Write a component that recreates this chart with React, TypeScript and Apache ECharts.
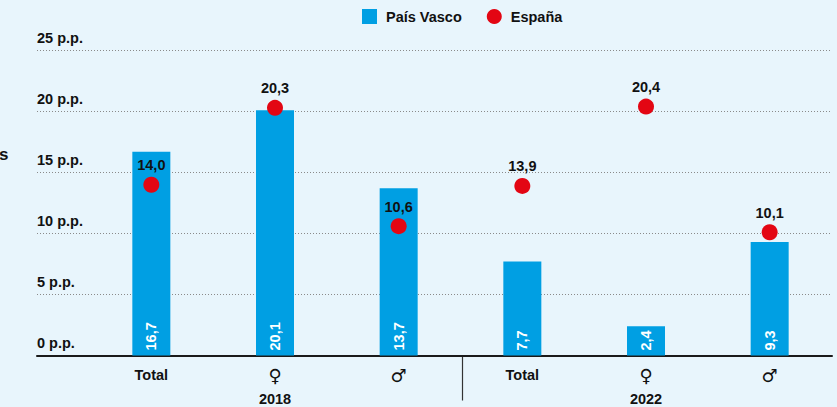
import React, { useEffect, useRef } from "react";
import * as echarts from "echarts";

const categories = ["Total", "♀", "♂", "Total", "♀", "♂"];
const years = ["2018", "2022"];
const paisVasco = [16.7, 20.1, 13.7, 7.7, 2.4, 9.3];
const espana = [14.0, 20.3, 10.6, 13.9, 20.4, 10.1];
const yTicks = { min: 0, max: 25, interval: 5 };

const FONT = "'Liberation Sans', Arial, Helvetica, sans-serif";
const FS = 14.5;
const fmt = (v: number) => v.toFixed(1).replace(".", ",");

export default function App() {
  const ref = useRef<HTMLDivElement>(null);
  useEffect(() => {
    if (!ref.current) return;
    const chart = echarts.init(ref.current, null, { renderer: "svg" });
    const option: any = {
      animation: false,
      backgroundColor: "#e8f5fc",
      textStyle: { fontFamily: FONT },
      legend: {
        left: 362,
        top: 9,
        padding: 0,
        itemWidth: 15,
        itemHeight: 15,
        itemGap: 25,
        textStyle: { fontFamily: FONT, fontWeight: "bold", fontSize: FS, color: "#111", padding: [0, 0, 0, 4] },
        data: [
          { name: "País Vasco", icon: "rect" },
          { name: "España", icon: "circle" },
        ],
      },
      grid: [
        { left: 37, right: 5, top: 50.5, bottom: 51.5 },
        { left: 89.5, right: 5.5, top: 50.5, bottom: 51.5 },
      ],
      xAxis: [
        {
          gridIndex: 0,
          type: "value",
          min: 0,
          max: 1,
          axisLine: { show: true, onZero: false, lineStyle: { color: "#1a1a1a", width: 2 } },
          axisTick: { show: false },
          axisLabel: { show: false },
          splitLine: { show: false },
        },
        {
          gridIndex: 1,
          type: "category",
          data: categories,
          axisLine: { show: false },
          axisTick: { show: false },
          axisLabel: {
            margin: 9.5,
            formatter: (v: string) => (v === "Total" ? `{t|${v}}` : `{s|${v}}`),
            rich: {
              t: { fontFamily: FONT, fontWeight: "bold", fontSize: FS, color: "#111", lineHeight: 20 },
              s: { fontFamily: "'DejaVu Sans', sans-serif", fontSize: 18, color: "#111", lineHeight: 20 },
            },
          },
        },
        {
          gridIndex: 1,
          type: "category",
          data: years,
          position: "bottom",
          axisLine: { show: false },
          axisTick: { show: false },
          axisLabel: { margin: 36, fontFamily: FONT, fontWeight: "bold", fontSize: FS, color: "#111" },
        },
      ],
      yAxis: [
        {
          gridIndex: 0,
          type: "value",
          ...yTicks,
          axisLine: { show: false },
          axisTick: { show: false },
          axisLabel: {
            inside: true,
            margin: 0,
            verticalAlign: "bottom",
            padding: [0, 0, 5, 0],
            formatter: "{value} p.p.",
            fontFamily: FONT,
            fontWeight: "bold",
            fontSize: FS,
            color: "#111",
          },
          splitLine: { lineStyle: { type: [1, 2], color: "#8a8a8a", width: 1 } },
        },
        {
          gridIndex: 1,
          type: "value",
          ...yTicks,
          show: false,
          splitLine: { show: false },
        },
      ],
      series: [
        {
          name: "País Vasco",
          type: "bar",
          xAxisIndex: 1,
          yAxisIndex: 1,
          data: paisVasco,
          barWidth: 38,
          itemStyle: { color: "#009fe3" },
          label: {
            show: true,
            position: "insideBottom",
            rotate: 90,
            align: "left",
            verticalAlign: "middle",
            distance: 5,
            color: "#fff",
            fontFamily: FONT,
            fontWeight: "bold",
            fontSize: FS,
            formatter: (p: any) => fmt(p.value),
          },
        },
        {
          name: "España",
          type: "scatter",
          xAxisIndex: 1,
          yAxisIndex: 1,
          data: espana,
          symbol: "circle",
          symbolSize: 16,
          itemStyle: { color: "#e30613", opacity: 1 },
          label: {
            show: true,
            position: "top",
            distance: 4,
            color: "#111",
            fontFamily: FONT,
            fontWeight: "bold",
            fontSize: FS,
            formatter: (p: any) => fmt(p.value),
          },
          z: 5,
        },
      ],
    };
    chart.setOption(option);

    const x2 = chart.convertToPixel({ xAxisIndex: 1 }, 2) as number;
    const x3 = chart.convertToPixel({ xAxisIndex: 1 }, 3) as number;
    const y0 = chart.convertToPixel({ yAxisIndex: 1 }, 0) as number;
    const sepX = (x2 + x3) / 2 + 2;
    chart.setOption({
      graphic: [
        {
          type: "line",
          shape: { x1: sepX, y1: y0, x2: sepX, y2: y0 + 45 },
          style: { stroke: "#333", lineWidth: 1.2 },
          silent: true,
        },
        {
          type: "text",
          left: -1,
          top: 146,
          style: { text: "s", font: `bold 17px ${FONT}`, fill: "#111" },
          silent: true,
        },
      ],
    });

    return () => chart.dispose();
  }, []);
  return (
    <div
      ref={ref}
      style={{ position: "fixed", left: 0, top: 0, width: 837, height: 407 }}
    />
  );
}
